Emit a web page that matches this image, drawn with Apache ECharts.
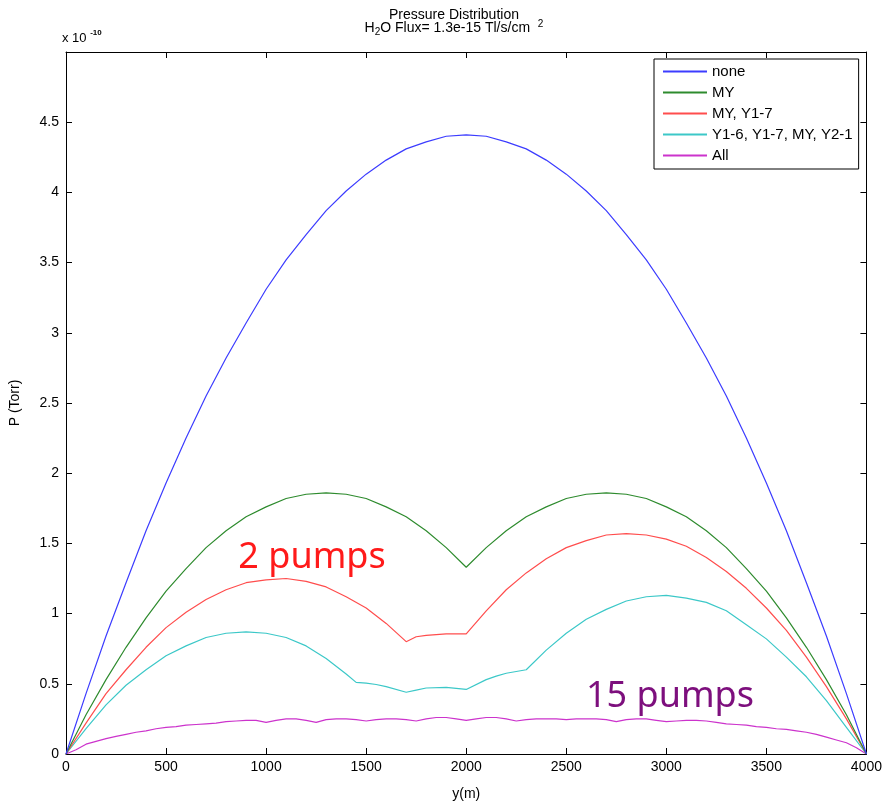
<!DOCTYPE html>
<html>
<head>
<meta charset="utf-8">
<script src="https://cdn.jsdelivr.net/npm/echarts@6/dist/echarts.min.js"></script>
<style>
  html, body { margin: 0; padding: 0; background: #fff; }
  #main { width: 885px; height: 806px; }
</style>
</head>
<body>
<div id="main"></div>
<script>
// position along the line, m
var yPos = [0,100,200,300,400,500,600,700,800,900,1000,1100,1200,1300,1400,1500,1600,1700,1800,1900,2000,
  2100,2200,2300,2400,2500,2600,2700,2800,2900,3000,3100,3200,3300,3400,3500,3600,3700,3800,3900,4000];

// pressure, x 1e-10 Torr
var pNone = [0,0.43,0.84,1.22,1.59,1.93,2.25,2.55,2.82,3.07,3.31,3.52,3.70,3.87,4.01,4.13,4.23,4.31,4.36,4.40,4.41,
  4.40,4.36,4.31,4.23,4.13,4.01,3.87,3.70,3.52,3.31,3.07,2.82,2.55,2.25,1.93,1.59,1.22,0.84,0.43,0];
var pMY = [0,0.28,0.53,0.76,0.97,1.16,1.32,1.47,1.59,1.69,1.76,1.82,1.85,1.86,1.85,1.82,1.76,1.69,1.59,1.47,1.33,
  1.47,1.59,1.69,1.76,1.82,1.85,1.86,1.85,1.82,1.76,1.69,1.59,1.47,1.32,1.16,0.97,0.76,0.53,0.28,0];

var xRed = [0,100,200,300,400,500,600,700,800,900,1000,1100,1200,1300,1400,1500,1600,1700,1750,1800,1900,2000,
  2100,2200,2300,2400,2500,2600,2700,2800,2900,3000,3100,3200,3300,3400,3500,3600,3700,3800,3900,4000];
var pRed = [0,0.22,0.43,0.60,0.76,0.90,1.01,1.10,1.17,1.22,1.24,1.25,1.23,1.19,1.12,1.04,0.93,0.80,0.835,0.845,0.855,0.855,
  1.02,1.17,1.29,1.39,1.47,1.52,1.56,1.57,1.56,1.53,1.48,1.40,1.30,1.18,1.04,0.88,0.69,0.48,0.25,0];

var xCyan = [0,100,200,300,400,500,600,700,800,900,1000,1100,1200,1300,1400,
  1450,1500,1550,1600,1700,1750,1800,1900,2000,2100,2150,2200,2300,
  2400,2500,2600,2700,2800,2900,3000,3100,3200,3300,3400,3500,3600,3700,3800,3900,4000];
var pCyan = [0,0.18,0.35,0.49,0.60,0.70,0.77,0.83,0.86,0.87,0.86,0.83,0.77,0.68,0.57,
  0.51,0.505,0.495,0.48,0.44,0.455,0.47,0.475,0.46,0.53,0.555,0.575,0.60,
  0.74,0.86,0.96,1.03,1.09,1.12,1.13,1.11,1.08,1.02,0.92,0.82,0.69,0.55,0.38,0.19,0];

var xAll = [0,50,100,150,200,250,300,350,400,450,500,550,600,650,700,750,800,850,900,950,
  1000,1050,1100,1150,1200,1250,1300,1350,1400,1450,1500,1550,1600,1650,1700,1750,1800,1850,1900,1950,
  2000,2050,2100,2150,2200,2250,2300,2350,2400,2450,2500,2550,2600,2650,2700,2750,2800,2850,2900,2950,
  3000,3050,3100,3150,3200,3250,3300,3350,3400,3450,3500,3550,3600,3650,3700,3750,3800,3850,3900,3950,4000];
var pAll = [0,0.03,0.07,0.09,0.11,0.125,0.14,0.155,0.165,0.18,0.19,0.195,0.205,0.21,0.215,0.22,0.23,0.235,0.24,0.24,
  0.225,0.24,0.25,0.25,0.24,0.225,0.245,0.25,0.25,0.245,0.235,0.245,0.25,0.25,0.245,0.235,0.25,0.26,0.26,0.25,
  0.24,0.25,0.26,0.26,0.25,0.235,0.245,0.25,0.25,0.25,0.245,0.25,0.25,0.25,0.245,0.23,0.245,0.25,0.25,0.24,
  0.23,0.235,0.24,0.24,0.235,0.225,0.215,0.21,0.205,0.195,0.19,0.18,0.175,0.165,0.155,0.14,0.12,0.10,0.08,0.045,0];

var names = ['none', 'MY', 'MY, Y1-7', 'Y1-6, Y1-7, MY, Y2-1', 'All'];
var colors = ['#3c3cff', '#2e8b2e', '#ff4d4d', '#3cc8c8', '#cc33cc'];

function pairs(xs, ys) {
  return xs.map(function (x, i) { return [x, ys[i]]; });
}

var seriesData = [pairs(yPos, pNone), pairs(yPos, pMY), pairs(xRed, pRed), pairs(xCyan, pCyan), pairs(xAll, pAll)];

var FONT = 'Liberation Sans';
var chart = echarts.init(document.getElementById('main'));

// matlab style box: ticks point inwards on all four sides
function boxAxis(extra) {
  var a = {
    type: 'value',
    axisLine: { show: true, onZero: false, lineStyle: { color: '#000', width: 1 } },
    axisTick: { show: true, inside: true, length: 6, lineStyle: { color: '#000' } },
    axisLabel: { show: false },
    splitLine: { show: false }
  };
  return Object.assign(a, extra);
}

chart.setOption({
  animation: false,
  backgroundColor: '#fff',
  color: colors,
  grid: { left: 64, right: 18, top: 52, bottom: 44, containLabel: false },
  legend: {
    orient: 'vertical',
    left: 654,
    top: 59,
    data: names,
    icon: 'rect',
    itemWidth: 44,
    itemHeight: 2,
    itemGap: 4,
    padding: [4, 6, 5, 9],
    backgroundColor: '#fff',
    borderColor: '#000',
    borderWidth: 1,
    borderRadius: 0,
    textStyle: { fontFamily: FONT, fontSize: 15, color: '#000', lineHeight: 17 }
  },
  xAxis: [
    boxAxis({
      min: 0, max: 4000, interval: 500, position: 'bottom',
      name: 'y(m)', nameLocation: 'middle', nameGap: 33,
      nameTextStyle: { fontFamily: FONT, fontSize: 14, color: '#000' },
      axisLabel: {
        show: true, fontFamily: FONT, fontSize: 14, color: '#000', margin: 6,
        formatter: function (v) { return String(v); }
      }
    }),
    boxAxis({ min: 0, max: 4000, interval: 500, position: 'top' })
  ],
  yAxis: [
    boxAxis({
      min: 0, max: 5, interval: 0.5, position: 'left',
      name: 'P (Torr)', nameLocation: 'middle', nameGap: 44, nameRotate: 90,
      nameTextStyle: { fontFamily: FONT, fontSize: 14, color: '#000' },
      axisLabel: {
        show: true, fontFamily: FONT, fontSize: 14, color: '#000', margin: 7,
        formatter: function (v) { return v === 5 ? '' : String(v); }
      }
    }),
    boxAxis({ min: 0, max: 5, interval: 0.5, position: 'right' })
  ],
  series: names.map(function (n, i) {
    return {
      name: n,
      type: 'line',
      data: seriesData[i],
      showSymbol: false,
      symbol: 'none',
      lineStyle: { width: 1.2, color: colors[i] },
      itemStyle: { color: colors[i] },
      z: 10 - i
    };
  }),
  graphic: [
    {
      type: 'text', x: 454, y: 15,
      style: {
        text: 'Pressure Distribution', align: 'center', verticalAlign: 'middle',
        font: '14px "Liberation Sans"', fill: '#000'
      }
    },
    {
      type: 'text', x: 454, y: 28,
      style: {
        text: '{n|H}{sub|2}{n|O Flux= 1.3e-15 Tl/s/cm  }{sup|2}',
        align: 'center', verticalAlign: 'middle',
        rich: {
          n: { fontFamily: FONT, fontSize: 14, lineHeight: 18, fill: '#000' },
          sub: { fontFamily: FONT, fontSize: 10, lineHeight: 18, verticalAlign: 'bottom', fill: '#000' },
          sup: { fontFamily: FONT, fontSize: 10, lineHeight: 18, verticalAlign: 'top', fill: '#000' }
        }
      }
    },
    {
      type: 'text', x: 62, y: 38,
      style: {
        text: '{n|x 10 }{sup|-10}',
        verticalAlign: 'middle',
        rich: {
          n: { fontFamily: FONT, fontSize: 13, lineHeight: 18, fill: '#000' },
          sup: { fontFamily: FONT, fontSize: 8, fontWeight: 'bold', lineHeight: 18, verticalAlign: 'top', fill: '#000' }
        }
      }
    },
    {
      type: 'text', x: 312, y: 558,
      style: {
        text: '2 pumps', align: 'center', verticalAlign: 'middle',
        font: '36px "Noto Sans"', fill: '#ff1a1a'
      }
    },
    {
      type: 'text', x: 670, y: 697,
      style: {
        text: '15 pumps', align: 'center', verticalAlign: 'middle',
        font: '36px "Noto Sans"', fill: '#7d0f7d'
      }
    }
  ]
});
</script>
</body>
</html>
